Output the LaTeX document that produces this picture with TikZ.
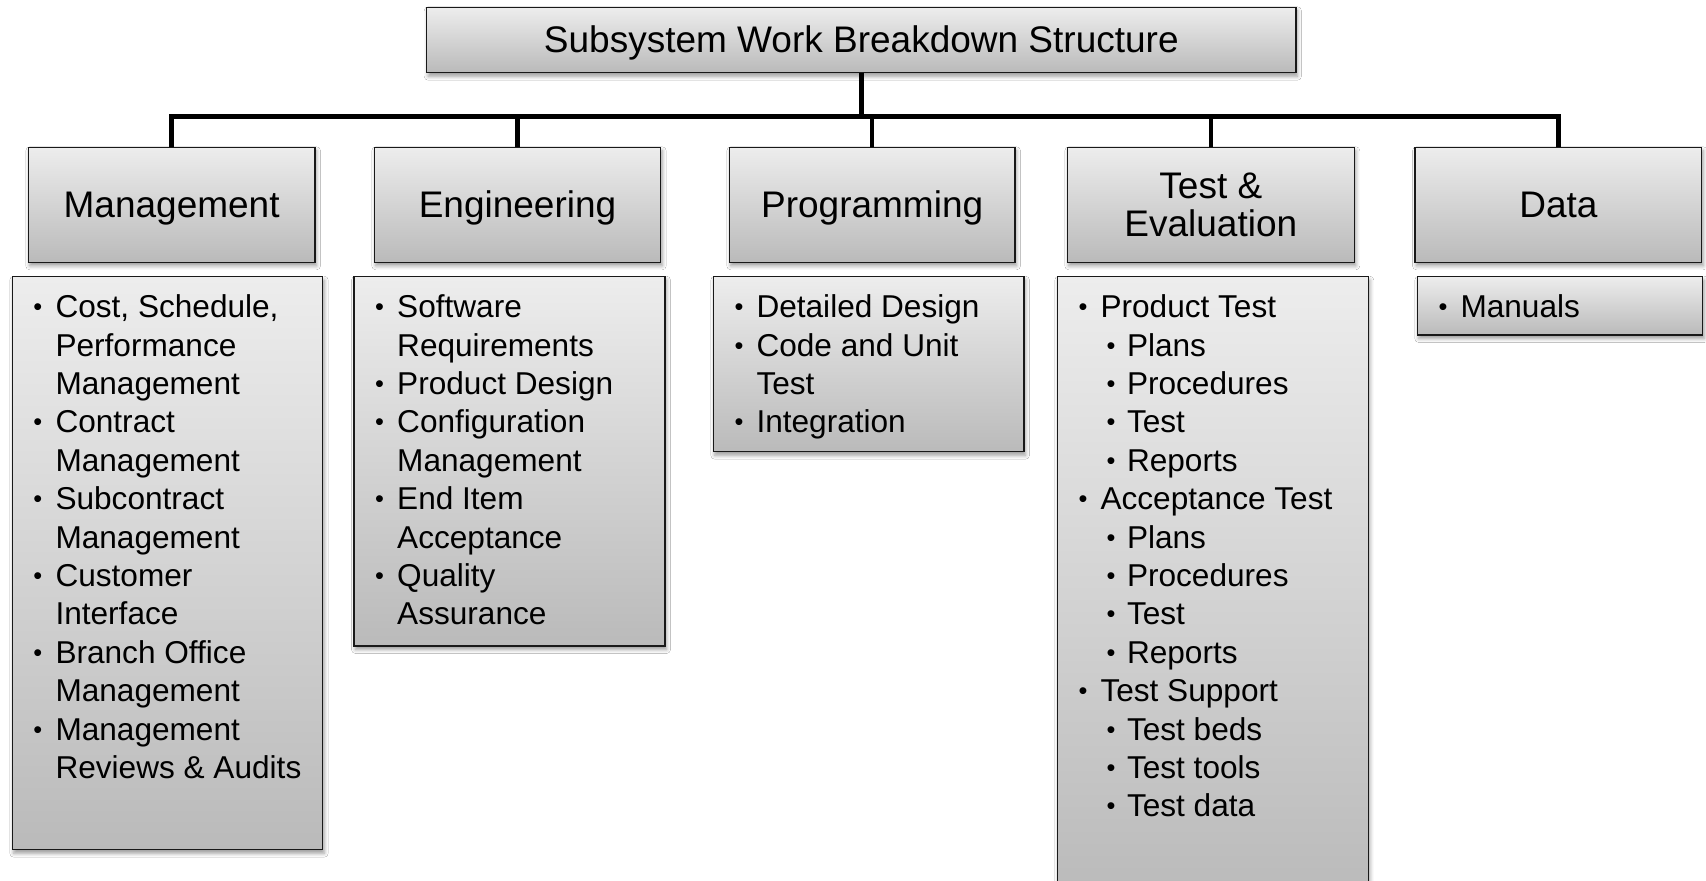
\documentclass[tikz,border=0pt]{standalone}
\usepackage{fontspec}
\usepackage{graphicx}
\setmainfont{Liberation Sans}
\usetikzlibrary{calc,shadows.blur}
\definecolor{gtop}{RGB}{237,237,237}
\definecolor{gbot}{RGB}{186,186,186}
\newcommand\blt{\hspace*{1pt}\raisebox{2pt}{\scalebox{0.8}{•}}}
\newcommand\Bi[1]{\hbox{\makebox[23pt][l]{\blt}#1}}
\newcommand\Ci[1]{\hbox{\hspace*{23pt}#1}}
\newcommand\Si[1]{\hbox{\hspace*{28pt}\makebox[21.5pt][l]{\blt}#1}}
\tikzset{
  box/.style={draw=black!90, line width=1.5pt, top color=gtop, bottom color=gbot,
    inner sep=0pt, outer sep=0pt, anchor=north west,
    blur shadow={shadow xshift=1.5pt, shadow yshift=-3.5pt, shadow blur radius=4pt, shadow opacity=40}},
  conn/.style={draw=black, line width=4.5pt, line join=miter},
  htext/.style={anchor=base, inner sep=0pt, font=\fontsize{37}{38}\selectfont},
  ltext/.style={anchor=base west, inner sep=0pt, font=\fontsize{31.6}{38.4}\selectfont},
}
\begin{document}
\begin{tikzpicture}[x=1pt,y=-1pt]
\useasboundingbox (0,0) rectangle (1706,881);
\fill[white] (0,0) rectangle (1706,881);
\clip (0,0) rectangle (1706,881);
% title
\node[box, minimum width=869.2pt, minimum height=65.4pt] (title) at (426.7,7.3) {};
\node[htext] (ttitle) at ($(title.center)+(0,12)$) {Subsystem Work Breakdown Structure};
% headings
\node[box, minimum width=286.7pt, minimum height=115pt] (hM) at (28.3,147.3) {};
\node[box, minimum width=286.4pt, minimum height=115pt] (hE) at (374.3,147.3) {};
\node[box, minimum width=285.7pt, minimum height=115pt] (hP) at (729.3,147.3) {};
\node[box, minimum width=287pt, minimum height=115pt] (hT) at (1067.3,147.3) {};
\node[box, minimum width=286.7pt, minimum height=115pt] (hD) at (1415,147.3) {};
\node[htext] (tM) at ($(hM.center)+(0,13)$) {Management};
\node[htext] (tE) at ($(hE.center)+(0,13)$) {Engineering};
\node[htext] (tP) at ($(hP.center)+(0,13)$) {Programming};
\node[htext] (tT1) at ($(hT.center)+(0,-6)$) {Test \&};
\node[htext] (tT2) at ($(hT.center)+(0,32)$) {Evaluation};
\node[htext] (tD) at ($(hD.center)+(0,13)$) {Data};
% lists
\node[box, minimum width=310.4pt, minimum height=573pt] (bM) at (12.3,276.7) {};
\node[box, minimum width=311pt, minimum height=369.3pt] (bE) at (354,276.7) {};
\node[box, minimum width=310.7pt, minimum height=175pt] (bP) at (713.3,276.7) {};
\node[box, minimum width=311pt, minimum height=621.3pt] (bT) at (1057.3,276.7) {};
\node[box, minimum width=285.4pt, minimum height=58.3pt] (bD) at (1417.3,276.7) {};
\node[ltext] (xM) at ($(bM.north west)+(20,41)$) {\vtop{%
  \Bi{Cost, Schedule,}\Ci{Performance}\Ci{Management}%
  \Bi{Contract}\Ci{Management}%
  \Bi{Subcontract}\Ci{Management}%
  \Bi{Customer}\Ci{Interface}%
  \Bi{Branch Office}\Ci{Management}%
  \Bi{Management}\Ci{Reviews \& Audits}}};
\node[ltext] (xE) at ($(bE.north west)+(20,41)$) {\vtop{%
  \Bi{Software}\Ci{Requirements}%
  \Bi{Product Design}%
  \Bi{Configuration}\Ci{Management}%
  \Bi{End Item}\Ci{Acceptance}%
  \Bi{Quality}\Ci{Assurance}}};
\node[ltext] (xP) at ($(bP.north west)+(20,41)$) {\vtop{%
  \Bi{Detailed Design}%
  \Bi{Code and Unit}\Ci{Test}%
  \Bi{Integration}}};
\node[ltext] (xT) at ($(bT.north west)+(20,41)$) {\vtop{%
  \Bi{Product Test}\Si{Plans}\Si{Procedures}\Si{Test}\Si{Reports}%
  \Bi{Acceptance Test}\Si{Plans}\Si{Procedures}\Si{Test}\Si{Reports}%
  \Bi{Test Support}\Si{Test beds}\Si{Test tools}\Si{Test data}}};
\node[ltext] (xD) at ($(bD.north west)+(20,41)$) {\vtop{\Bi{Manuals}}};
% connectors
\draw[conn] (title.south) -- ++(0,44) -| (hM.north);
\draw[conn] (title.south) -- ++(0,44) -| (hE.north);
\draw[conn] (title.south) -- ++(0,44) -| (hP.north);
\draw[conn] (title.south) -- ++(0,44) -| (hT.north);
\draw[conn] (title.south) -- ++(0,44) -| (hD.north);
\end{tikzpicture}
\end{document}
